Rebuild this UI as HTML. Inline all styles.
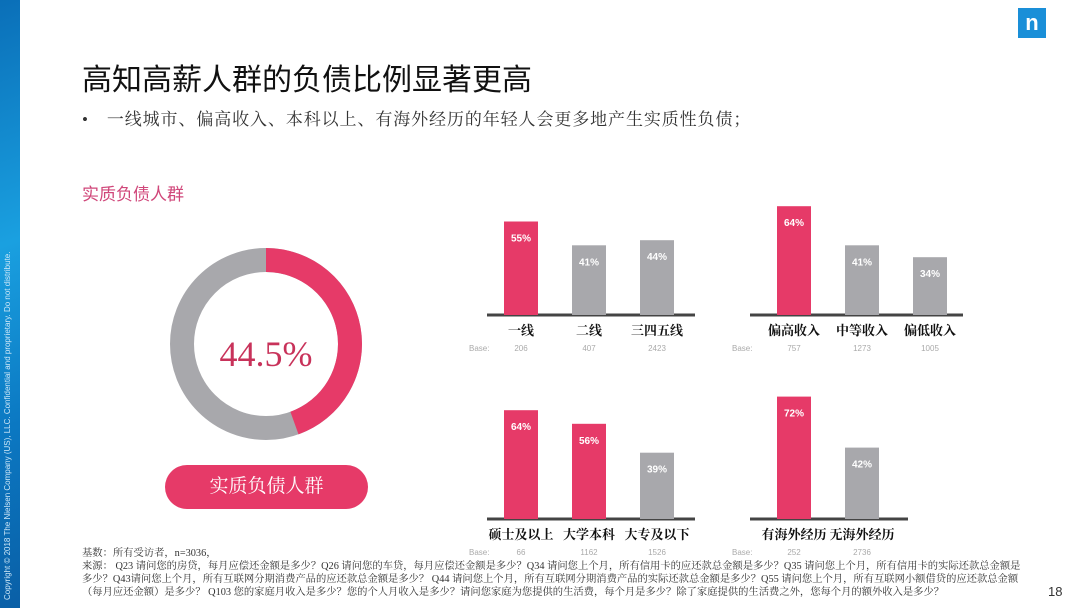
<!DOCTYPE html>
<html><head><meta charset="utf-8"><style>
body{margin:0;width:1080px;height:608px;background:#fff;overflow:hidden;position:relative;font-family:"Liberation Serif","Noto Serif CJK SC",serif;}
.abs{position:absolute;white-space:nowrap}
</style></head><body>
<div class="abs" style="left:0;top:0;width:20px;height:608px;background:linear-gradient(160deg,#0a6fb8,#1aa0e0 40%,#0b78c2 70%,#0a5fa6)"></div>
<div class="abs" style="left:3px;top:600px;transform:rotate(-90deg);transform-origin:0 0;font:8px 'Liberation Sans',sans-serif;color:#cfe8f8">Copyright © 2018 The Nielsen Company (US), LLC. Confidential and proprietary. Do not distribute.</div>
<div class="abs" style="left:1018px;top:8px;width:28px;height:30px;background:#1a8fd8;color:#fff;font:bold 22px 'Liberation Sans',sans-serif;text-align:center;line-height:30px">n</div>
<div class="abs" style="left:82px;top:55px;font-size:30px;font-family:'Liberation Sans','Noto Sans CJK SC',sans-serif;color:#111">高知高薪人群的负债比例显著更高</div>
<div class="abs" style="left:82px;top:105px;font-size:17px;letter-spacing:0.9px;color:#333">•<span style="margin-left:18px">一线城市、偏高收入、本科以上、有海外经历的年轻人会更多地产生实质性负债；</span></div>
<div class="abs" style="left:82px;top:180px;font-size:17px;color:#d0477a;font-family:'Liberation Sans','Noto Sans CJK SC',sans-serif">实质负债人群</div>
<svg class="abs" style="left:0;top:0" width="1080" height="608">
<g id="donut"></g>
<text x="266" y="366" text-anchor="middle" font-size="36" fill="#c8325a" font-family="Liberation Serif,serif">44.5%</text>
<g id="bars"></g>
</svg>
<div class="abs" style="left:165px;top:465px;width:203px;height:44px;border-radius:22px;background:#e63a68;color:#fff;font-size:19px;text-align:center;line-height:44px">实质负债人群</div>
<div class="abs" style="left:82px;top:547px;font-size:10.3px;line-height:13px;color:#333;white-space:normal;width:945px">基数：所有受访者，n=3036，<br>来源： Q23 请问您的房贷，每月应偿还金额是多少？Q26 请问您的车贷，每月应偿还金额是多少？Q34 请问您上个月，所有信用卡的应还款总金额是多少？Q35 请问您上个月，所有信用卡的实际还款总金额是多少？Q43请问您上个月，所有互联网分期消费产品的应还款总金额是多少？ Q44 请问您上个月，所有互联网分期消费产品的实际还款总金额是多少？Q55 请问您上个月，所有互联网小额借贷的应还款总金额（每月应还金额）是多少？ Q103 您的家庭月收入是多少？您的个人月收入是多少？请问您家庭为您提供的生活费，每个月是多少？除了家庭提供的生活费之外，您每个月的额外收入是多少？</div>
<div class="abs" style="left:1048px;top:584px;font:13px 'Liberation Sans',sans-serif;color:#333">18</div>
<script>
const donutValue=44.5;
const g1Cats=["一线","二线","三四五线"],g1Vals=[55,41,44],g1Base=["206","407","2423"];
const g2Cats=["偏高收入","中等收入","偏低收入"],g2Vals=[64,41,34],g2Base=["757","1273","1005"];
const g3Cats=["硕士及以上","大学本科","大专及以下"],g3Vals=[64,56,39],g3Base=["66","1162","1526"];
const g4Cats=["有海外经历","无海外经历"],g4Vals=[72,42],g4Base=["252","2736"];
const hi=[[true,false,false],[true,false,false],[true,true,false],[true,false]];
const NS="http://www.w3.org/2000/svg";
function mk(t,a,p){const e=document.createElementNS(NS,t);for(const k in a)e.setAttribute(k,a[k]);p.appendChild(e);return e;}
const dg=document.getElementById('donut');const cx=266,cy=344,r=84;
function pt(f){const a=f*2*Math.PI-Math.PI/2;return [cx+r*Math.cos(a),cy+r*Math.sin(a)];}
const c0=mk('circle',{cx:cx,cy:cy,r:r,fill:'none',stroke:'#a8a8ac','stroke-width':24},dg);


const f=donutValue/100,p1=pt(f);
const arc=mk('path',{d:`M${cx} ${cy-r} A${r} ${r} 0 ${f>0.5?1:0} 1 ${p1[0]} ${p1[1]}`,fill:'none',stroke:'#e63a68','stroke-width':24},dg);


const bg=document.getElementById('bars');
const groups=[
 {cats:g1Cats,vals:g1Vals,base:g1Base,x0:487,x1:695,y:315,bx:504},
 {cats:g2Cats,vals:g2Vals,base:g2Base,x0:750,x1:963,y:315,bx:777},
 {cats:g3Cats,vals:g3Vals,base:g3Base,x0:487,x1:695,y:519,bx:504},
 {cats:g4Cats,vals:g4Vals,base:g4Base,x0:750,x1:908,y:519,bx:777}];
const sc=1.70,bw=34,step=68;
groups.forEach((G,gi)=>{
 const ax=mk('line',{x1:G.x0,x2:G.x1,y1:G.y,y2:G.y,stroke:'#444','stroke-width':3},bg);
 
 
 const bl=mk('text',{x:G.x0-18,y:G.y+36,'font-size':8,fill:'#aaa','font-family':'Liberation Sans,sans-serif'},bg);bl.textContent='Base:';
 
 
 G.vals.forEach((v,i)=>{
  const x=G.bx+i*step,h=v*sc;
  const b=mk('rect',{x:x,y:G.y-h,width:bw,height:h,fill:hi[gi][i]?'#e63a68':'#a8a8ac'},bg);
  
  
  const t=mk('text',{x:x+bw/2,y:G.y-h+20,'text-anchor':'middle','font-size':10,'font-weight':'bold',fill:'#fff','font-family':'Liberation Sans,sans-serif'},bg);t.textContent=v+'%';
  
  
  const c=mk('text',{x:x+bw/2,y:G.y+20,'text-anchor':'middle','font-size':13,'font-weight':'bold',fill:'#111','font-family':'Liberation Serif,Noto Serif CJK SC,serif'},bg);c.textContent=G.cats[i];
  
  
  const n=mk('text',{x:x+bw/2,y:G.y+36,'text-anchor':'middle','font-size':8,fill:'#aaa','font-family':'Liberation Sans,sans-serif'},bg);n.textContent=G.base[i];
  
  
 });
});
</script>
</body></html>
